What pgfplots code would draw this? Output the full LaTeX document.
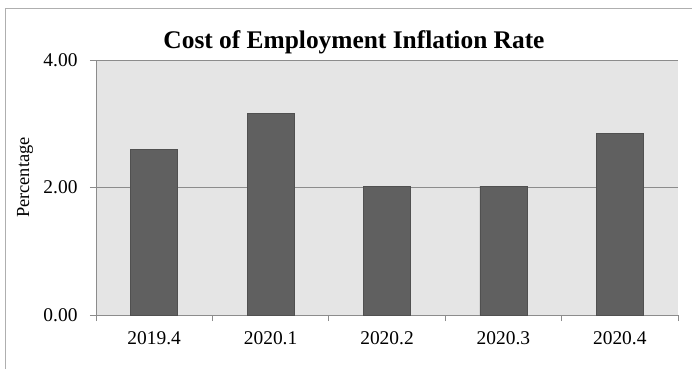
\documentclass[border=0pt]{standalone}
\usepackage{fontspec}
\setmainfont{Liberation Serif}
\usepackage{pgfplots}
\pgfplotsset{compat=1.18}
\definecolor{bg}{RGB}{229,229,229}
\definecolor{barfill}{RGB}{96,96,96}
\definecolor{baredge}{RGB}{80,80,80}
\definecolor{axisgray}{RGB}{140,140,140}
\definecolor{framegray}{RGB}{175,175,175}
\begin{document}
\begin{tikzpicture}[x=1bp,y=1bp]
\path[use as bounding box] (0,0) rectangle (692,369);
\draw[framegray, line width=1bp] (5,0) -- (5,360) -- (692,360);
\node[anchor=base, font=\bfseries\fontsize{25.5}{30}\selectfont] at (354,321) {Cost of Employment Inflation Rate};
\begin{axis}[
  at={(96bp,54bp)}, anchor=south west,
  scale only axis, width=582bp, height=255bp,
  xmin=-0.5, xmax=4.5, ymin=0, ymax=4,
  axis x line*=bottom, axis y line*=left,
  axis line style={axisgray, line width=0.8bp, -},
  axis background/.style={fill=bg},
  ytick={0,2,4}, ymajorgrids, grid style={axisgray, line width=0.8bp},
  xtick={-0.5,0.5,...,4.5}, x tick label as interval,
  xticklabels={2019.4,2020.1,2020.2,2020.3,2020.4},
  tick align=outside, major tick length=6bp,
  tick style={axisgray, line width=0.8bp},
  ticklabel style={font=\fontsize{19.5}{23}\selectfont},
  x tick label style={yshift=-7bp},
  y tick label style={xshift=-9bp, /pgf/number format/.cd, fixed, fixed zerofill, precision=2, assume math mode=true},
  ylabel={Percentage},
  ylabel style={font=\fontsize{18.5}{22}\selectfont, at={(axis description cs:-0.122,0.539)}, anchor=center},
]
\addplot[ybar, bar width=47bp, fill=barfill, draw=baredge, line width=0.6bp]
  coordinates {(0,2.60) (1,3.16) (2,2.02) (3,2.02) (4,2.85)};
\end{axis}
\end{tikzpicture}
\end{document}
